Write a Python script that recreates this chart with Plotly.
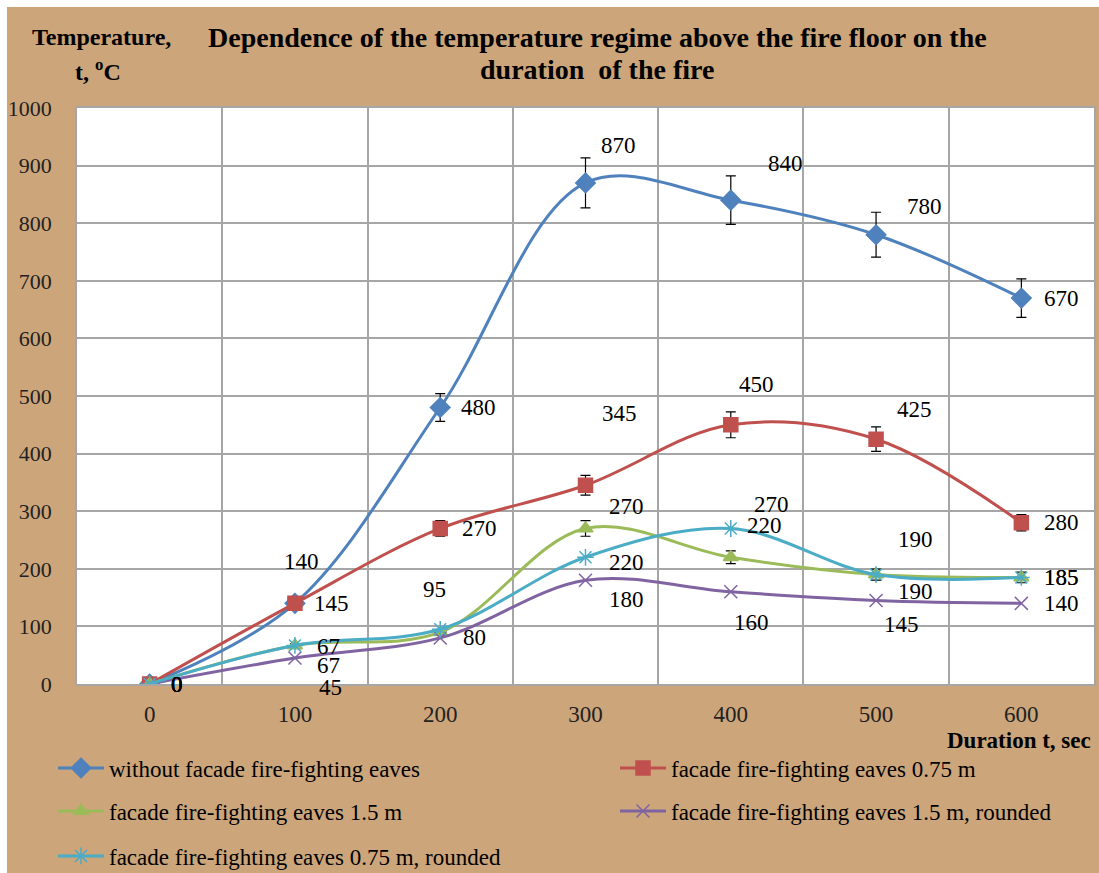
import plotly.graph_objects as go

# ---------------- data ----------------
duration_sec = [0, 100, 200, 300, 400, 500, 600]
without_eaves = [0, 140, 480, 870, 840, 780, 670]
eaves_075 = [0, 140, 270, 345, 450, 425, 280]
eaves_15 = [0, 67, 90, 270, 220, 190, 185]
eaves_15_rounded = [0, 45, 80, 180, 160, 145, 140]
eaves_075_rounded = [0, 67, 95, 220, 270, 190, 185]

label_blue = ["0", "140", "480", "870", "840", "780", "670"]
label_red = ["0", "145", "270", "345", "450", "425", "280"]
label_green = ["0", "67", None, "270", "220", "190", "185"]
label_purple = ["0", "45", "80", "180", "160", "145", "140"]
label_cyan = ["0", "67", "95", "220", "270", "190", "185"]

y_ticks = [0, 100, 200, 300, 400, 500, 600, 700, 800, 900, 1000]

# ---------------- layout geometry ----------------
W, H = 1099, 873
ML, MR, MT, MB = 77, 5, 108, 189
PW, PH = W - ML - MR, H - MT - MB


def px(x):  # screen x -> paper
    return (x - ML) / PW


def py(y):  # screen y -> paper
    return (H - MB - y) / PH


FONT = "Liberation Serif"
TAN = "#CCA57A"
GRID = "#A6A6A6"

series = [
    dict(name="without facade fire-fighting eaves", y=without_eaves, labels=label_blue,
         color="#4F81BD", symbol="diamond", size=15, err=True, leg=("legend", 53, 768),
         offs=[(27, 0), (7, -42), (38, 0), (33, -37), (55, -37), (48, -28), (40, 0)]),
    dict(name="facade fire-fighting eaves 0.75 m", y=eaves_075, labels=label_red,
         color="#C0504D", symbol="square", size=14, err=True, leg=("legend2", 615, 768),
         offs=[(27, 0), (37, 0), (39, 0), (34, -72), (26, -40), (38, -30), (40, 0)]),
    dict(name="facade fire-fighting eaves 1.5 m", y=eaves_15, labels=label_green,
         color="#9BBB59", symbol="triangle-up", size=13, err=True, leg=("legend3", 53, 811),
         offs=[(27, 0), (34, 1), None, (41, -22), (34, -32), (39, -35), (40, 0)]),
    dict(name="facade fire-fighting eaves 1.5 m, rounded", y=eaves_15_rounded, labels=label_purple,
         color="#8064A2", symbol="x-thin-open", size=13, err=False, leg=("legend4", 615, 811),
         offs=[(27, 0), (36, 29), (34, 0), (41, 19), (21, 31), (25, 24), (40, 0)]),
    dict(name="facade fire-fighting eaves 0.75 m, rounded", y=eaves_075_rounded, labels=label_cyan,
         color="#4BACC6", symbol="asterisk-open", size=14, err=False, leg=("legend5", 53, 856),
         offs=[(27, 0), (34, 20), (-6, -40), (41, 5), (41, -24), (39, 17), (40, 0)]),
]

fig = go.Figure()
annotations = []
legends = {}
for s in series:
    kw = {}
    if s["err"]:
        kw["error_y"] = dict(type="percent", value=5, color="black", thickness=1.2, width=5)
    lname, lx, ly = s["leg"]
    fig.add_trace(go.Scatter(
        x=duration_sec, y=s["y"], name=s["name"], mode="lines+markers",
        line=dict(color=s["color"], width=3, shape="spline", smoothing=1.0),
        marker=dict(symbol=s["symbol"], size=s["size"], color=s["color"],
                    line=dict(color=s["color"], width=1.5)),
        legend=lname, **kw))
    legends[lname] = dict(x=px(lx), y=py(ly), xanchor="left", yanchor="middle",
                          orientation="h", bgcolor="rgba(0,0,0,0)", itemwidth=46,
                          font=dict(family=FONT, size=23, color="black"))
    for xv, yv, txt, off in zip(duration_sec, s["y"], s["labels"], s["offs"]):
        if txt is None or off is None:
            continue
        annotations.append(dict(
            x=xv, y=yv, xref="x", yref="y", text=txt, showarrow=False,
            xshift=off[0], yshift=-off[1], xanchor="center", yanchor="middle",
            font=dict(family=FONT, size=23, color="black")))

# titles and axis captions
annotations += [
    dict(x=px(597), y=py(37), xref="paper", yref="paper", showarrow=False,
         text="<b>Dependence of the temperature regime above the fire floor on the</b>",
         xanchor="center", yanchor="middle", font=dict(family=FONT, size=28, color="black")),
    dict(x=px(597), y=py(70), xref="paper", yref="paper", showarrow=False,
         text="<b>duration  of the fire</b>",
         xanchor="center", yanchor="middle", font=dict(family=FONT, size=28, color="black")),
    dict(x=px(101), y=py(37), xref="paper", yref="paper", showarrow=False,
         text="<b>Temperature,</b>", xanchor="center", yanchor="middle",
         font=dict(family=FONT, size=24, color="black")),
    dict(x=px(98), y=py(70), xref="paper", yref="paper", showarrow=False,
         text="<b>t, <sup>o</sup>C</b>", xanchor="center", yanchor="middle",
         font=dict(family=FONT, size=24, color="black")),
    dict(x=px(1093), y=py(740), xref="paper", yref="paper", showarrow=False,
         text="<b>Duration t, sec</b>", xanchor="right", yanchor="middle",
         font=dict(family=FONT, size=23, color="black")),
]

# white page edge (top and left) as in the reference
shapes = [
    dict(type="rect", xref="paper", yref="paper", layer="above",
         x0=px(-5), x1=px(W + 5), y0=py(7), y1=py(-5),
         fillcolor="white", line=dict(width=0)),
    dict(type="rect", xref="paper", yref="paper", layer="above",
         x0=px(-5), x1=px(7), y0=py(H + 5), y1=py(-5),
         fillcolor="white", line=dict(width=0)),
]

fig.update_layout(
    width=W, height=H,
    margin=dict(l=ML, r=MR, t=MT, b=MB, pad=0, autoexpand=False),
    paper_bgcolor=TAN, plot_bgcolor="white",
    showlegend=True,
    annotations=annotations, shapes=shapes,
    xaxis=dict(range=[-50, 650], tickmode="linear", tick0=0, dtick=100,
               showgrid=False, zeroline=False, showline=True, mirror=True,
               linecolor=GRID, linewidth=1.5, ticks="", ticklabelstandoff=9,
               tickfont=dict(family=FONT, size=23, color="#222222"),
               minor=dict(tick0=50, dtick=100, showgrid=True, gridcolor=GRID,
                          gridwidth=1.5, ticks="")),
    yaxis=dict(range=[0, 1000], tickmode="array", tickvals=y_ticks,
               showgrid=True, gridcolor=GRID, gridwidth=1.5, zeroline=False,
               showline=True, mirror=True, linecolor=GRID, linewidth=1.5,
               ticks="", ticklabelstandoff=19,
               tickfont=dict(family=FONT, size=22, color="#222222")),
    **legends,
)

fig.write_html(
    "out.html",
    config={"displayModeBar": False},
    post_script="document.documentElement.style.overflow='hidden';"
                "document.body.style.overflow='hidden';"
                "document.body.style.margin='0';"
                "document.body.style.padding='0';",
)
